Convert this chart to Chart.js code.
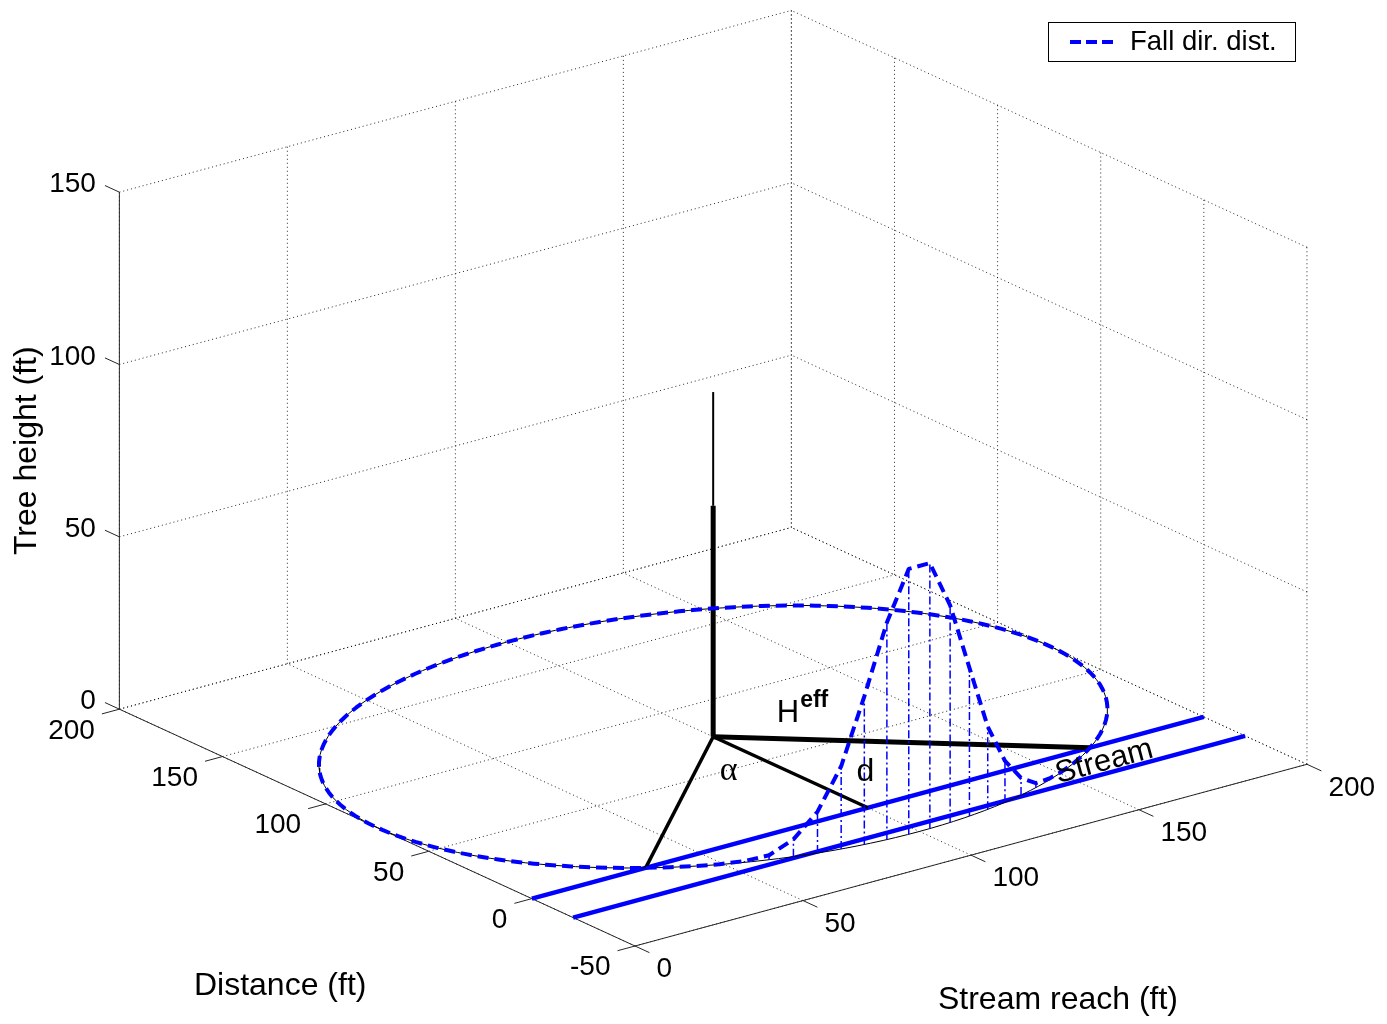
<!DOCTYPE html>
<html>
<head>
<meta charset="utf-8">
<title>Tree fall direction distribution</title>
<script src="https://cdn.jsdelivr.net/npm/chart.js@4.4.0/dist/chart.umd.min.js"></script>
<style>
  html, body { margin: 0; padding: 0; background: #fff; }
</style>
</head>
<body>
<canvas id="chart" width="1387" height="1024"></canvas>
<script>
// Axis ranges (ft) and tick labels
const xRange = [0, 200];      // Stream reach
const yRange = [-50, 200];    // Distance
const zRange = [0, 150];      // Tree height
const xTicks = [0, 50, 100, 150, 200];
const yTicks = [-50, 0, 50, 100, 150, 200];
const zTicks = [0, 50, 100, 150];

// Scene
const treeBase = [100, 75];        // stream reach, distance
const treeHeight = 100;
const trunkHeight = 67;            // thick lower part of the trunk
const fallRadius = 100;            // circle of possible fall positions
const streamBanks = [0, -20];      // distance of the two stream lines

// Fall direction distribution above the stream arc
// angle from the straight-to-stream direction (deg) and height (ft)
const fallAngles = [-41.4, -37.8, -34.2, -30.6, -27.0, -23.4, -19.8, -16.2, -12.6, -9.0, -5.4, -1.8,
                    1.8, 5.4, 9.0, 12.6, 16.2, 19.8, 23.4, 27.0, 30.6, 34.2, 37.8, 41.4];
const fallHeights = [0, 0, 0, 0.1, 0.4, 1.3, 5, 12, 24, 43, 63, 77,
                     77, 63, 43, 24, 12, 5, 1.3, 0.4, 0.1, 0, 0, 0];

// MATLAB style 3-D view
const AZ = -37.5, EL = 30;
const DEG = Math.PI / 180;

// where the view plane sits on the canvas
const W = 1387, H = 1024;
const ORIGIN_PX = [635, 946];
const PX_PER_U = 847, PX_PER_V = 597;

function project(x, y, z) {
    const xn = (x - xRange[0]) / (xRange[1] - xRange[0]);
    const yn = (y - yRange[0]) / (yRange[1] - yRange[0]);
    const zn = (z - zRange[0]) / (zRange[1] - zRange[0]);
    const a = -AZ * DEG, e = EL * DEG;
    return {
        x: Math.cos(a) * xn - Math.sin(a) * yn,
        y: (Math.sin(a) * xn + Math.cos(a) * yn) * Math.sin(e) + zn * Math.cos(e)
    };
}

// list of [x,y,z] or null (pen up) -> chart points
function toData(pts) {
    return pts.map(p => p ? project(p[0], p[1], p[2]) : { x: NaN, y: NaN });
}

function circlePoint(phi, z) {
    const t = (phi - 90) * DEG;
    return [treeBase[0] + fallRadius * Math.cos(t), treeBase[1] + fallRadius * Math.sin(t), z];
}

// grid on the floor and the two back walls
const gridPts = [];
xTicks.forEach(v => {
    gridPts.push([v, yRange[0], 0], [v, yRange[1], 0], null);
    gridPts.push([v, yRange[1], 0], [v, yRange[1], zRange[1]], null);
});
yTicks.forEach(v => {
    gridPts.push([xRange[0], v, 0], [xRange[1], v, 0], null);
    gridPts.push([xRange[1], v, 0], [xRange[1], v, zRange[1]], null);
});
zTicks.forEach(v => {
    gridPts.push([xRange[0], yRange[1], v], [xRange[1], yRange[1], v], null);
    gridPts.push([xRange[1], yRange[0], v], [xRange[1], yRange[1], v], null);
});

// axis lines and tick marks
const axisPts = [
    [xRange[0], yRange[0], 0], [xRange[1], yRange[0], 0], null,
    [xRange[0], yRange[0], 0], [xRange[0], yRange[1], 0], null,
    [xRange[0], yRange[1], 0], [xRange[0], yRange[1], zRange[1]], null
];
const tickLen = 0.028;
const tickX = tickLen * (yRange[1] - yRange[0]);
const tickY = tickLen * (xRange[1] - xRange[0]) * 0.93;
xTicks.forEach(v => axisPts.push([v, yRange[0], 0], [v, yRange[0] - tickX, 0], null));
yTicks.forEach(v => axisPts.push([xRange[0], v, 0], [xRange[0] - tickY, v, 0], null));
zTicks.forEach(v => axisPts.push([xRange[0], yRange[1], v], [xRange[0], yRange[1] + tickX, v], null));

// stream banks
const streamPts = [];
streamBanks.forEach(b => streamPts.push([xRange[0], b, 0], [xRange[1], b, 0], null));

// ground circle
const circlePts = [];
for (let p = 0; p <= 360; p += 2) circlePts.push(circlePoint(p, 0));

// where the circle meets the near stream line
const edgeAngle = Math.acos((treeBase[1] - streamBanks[0]) / fallRadius) / DEG;
const halfChord = Math.sqrt(fallRadius * fallRadius - Math.pow(treeBase[1] - streamBanks[0], 2));

// dashed curve: distribution over the stream arc, then the circle on land
const fallPts = fallAngles.map((p, i) => circlePoint(p, fallHeights[i]));
for (let p = edgeAngle; p < 360 - edgeAngle; p += 2) fallPts.push(circlePoint(p, 0));
fallPts.push(circlePoint(360 - edgeAngle, 0));

// drop lines under the distribution
const dropPts = [];
fallAngles.forEach((p, i) => dropPts.push(circlePoint(p, 0), circlePoint(p, fallHeights[i]), null));

const base = [treeBase[0], treeBase[1], 0];

function lineSet(label, pts, style) {
    return Object.assign({
        label: label,
        data: toData(pts),
        showLine: true,
        pointRadius: 0,
        pointHoverRadius: 0,
        fill: false,
        tension: 0,
        spanGaps: false,
        borderCapStyle: 'butt',
        borderJoinStyle: 'round'
    }, style);
}

const datasets = [
    lineSet('grid', gridPts, { borderColor: 'rgba(0,0,0,0.85)', borderWidth: 1, borderDash: [1, 3], order: 20 }),
    lineSet('axes', axisPts, { borderColor: '#262626', borderWidth: 1, order: 19 }),
    lineSet('stream', streamPts, { borderColor: '#0000ff', borderWidth: 4.5, order: 10 }),
    lineSet('circle', circlePts, { borderColor: '#000', borderWidth: 1, order: 9 }),
    lineSet('trunk', [base, [treeBase[0], treeBase[1], trunkHeight]], { borderColor: '#000', borderWidth: 5, order: 8 }),
    lineSet('top', [[treeBase[0], treeBase[1], trunkHeight], [treeBase[0], treeBase[1], treeHeight]], { borderColor: '#000', borderWidth: 2, order: 8 }),
    lineSet('Heff', [base, [treeBase[0] + halfChord, streamBanks[0], 0]], { borderColor: '#000', borderWidth: 5, order: 7 }),
    lineSet('d', [base, [treeBase[0], streamBanks[0], 0]], { borderColor: '#000', borderWidth: 3.5, order: 7 }),
    lineSet('alpha', [base, [treeBase[0] - halfChord, streamBanks[0], 0]], { borderColor: '#000', borderWidth: 3.5, order: 7 }),
    lineSet('Fall dir. dist.', fallPts, { borderColor: '#0000ff', borderWidth: 4, borderDash: [11, 6], order: 2 }),
    lineSet('drops', dropPts, { borderColor: '#0000ff', borderWidth: 1.5, borderDash: [8, 3, 2, 3], order: 1 })
];

const FONT = "'Liberation Sans', Arial, Helvetica, sans-serif";

// tick labels, axis titles, annotations and legend
const textPlugin = {
    id: 'sceneText',
    afterDatasetsDraw(chart) {
        const ctx = chart.ctx;
        const sx = chart.scales.x, sy = chart.scales.y;
        const px = (x, y, z) => {
            const p = project(x, y, z);
            return [sx.getPixelForValue(p.x), sy.getPixelForValue(p.y)];
        };
        ctx.save();
        ctx.fillStyle = '#000';
        ctx.textBaseline = 'middle';

        ctx.font = '28px ' + FONT;
        ctx.textAlign = 'left';
        xTicks.forEach(v => {
            const [a, b] = px(v, yRange[0] - tickX, 0);
            ctx.fillText(String(v), a + 7, b + 17);
        });
        ctx.textAlign = 'right';
        yTicks.forEach(v => {
            const [a, b] = px(xRange[0] - tickY, v, 0);
            ctx.fillText(String(v), a - 7, b + 17);
        });
        zTicks.forEach(v => {
            const [a, b] = px(xRange[0], yRange[1] + tickX, v);
            ctx.fillText(String(v), a - 9, b - 1);
        });

        // axis titles
        ctx.font = '32px ' + FONT;
        ctx.textAlign = 'center';
        let [a, b] = px((xRange[0] + xRange[1]) / 2, yRange[0], 0);
        ctx.fillText('Stream reach (ft)', a + 87, b + 145);
        [a, b] = px(xRange[0], (yRange[0] + yRange[1]) / 2, 0);
        ctx.fillText('Distance (ft)', a - 97, b + 159);
        [a, b] = px(xRange[0], yRange[1], (zRange[0] + zRange[1]) / 2);
        ctx.save();
        ctx.translate(a - 92, b);
        ctx.rotate(-Math.PI / 2);
        ctx.fillText('Tree height (ft)', 0, 0);
        ctx.restore();

        // annotations
        ctx.font = '31px ' + FONT;
        ctx.textAlign = 'left';
        ctx.textBaseline = 'alphabetic';
        [a, b] = px(118, 73, 0);
        ctx.fillText('H', a - 1, b);
        const hw = ctx.measureText('H').width;
        ctx.font = 'bold 23px ' + FONT;
        ctx.fillText('eff', a + hw, b - 15);

        ctx.textAlign = 'center';
        ctx.textBaseline = 'middle';
        ctx.font = '32px ' + FONT;
        [a, b] = px(114, 24, 0);
        ctx.fillText('d', a, b);
        ctx.font = "34px 'Liberation Serif', 'Times New Roman', serif";
        [a, b] = px(88, 48, 0);
        ctx.fillText('\u03b1', a, b - 2);

        // stream label along the stream
        const s0 = px(0, 0, 0), s1 = px(200, 0, 0);
        const ang = Math.atan2(s1[1] - s0[1], s1[0] - s0[0]);
        [a, b] = px(163, -12, 0);
        ctx.save();
        ctx.translate(a, b);
        ctx.rotate(ang);
        ctx.font = '31px ' + FONT;
        ctx.fillText('Stream', 0, 0);
        ctx.restore();

        // legend box
        const lx = 1048, ly = 22, lw = 247, lh = 39;
        ctx.fillStyle = '#fff';
        ctx.fillRect(lx, ly, lw, lh);
        ctx.strokeStyle = '#000';
        ctx.lineWidth = 1;
        ctx.strokeRect(lx + 0.5, ly + 0.5, lw, lh);
        ctx.strokeStyle = '#0000ff';
        ctx.lineWidth = 4;
        ctx.setLineDash([11, 5]);
        ctx.beginPath();
        ctx.moveTo(lx + 22, ly + 20);
        ctx.lineTo(lx + 66, ly + 20);
        ctx.stroke();
        ctx.setLineDash([]);
        ctx.fillStyle = '#000';
        ctx.font = '27.5px ' + FONT;
        ctx.textAlign = 'left';
        ctx.textBaseline = 'middle';
        ctx.fillText('Fall dir. dist.', lx + 82, ly + 20);
        ctx.restore();
    }
};

new Chart(document.getElementById('chart'), {
    type: 'scatter',
    data: { datasets: datasets },
    options: {
        responsive: false,
        animation: false,
        devicePixelRatio: 1,
        layout: { padding: 0 },
        events: [],
        plugins: { legend: { display: false }, tooltip: { enabled: false } },
        scales: {
            x: {
                type: 'linear', display: false, bounds: 'data',
                min: -ORIGIN_PX[0] / PX_PER_U,
                max: (W - ORIGIN_PX[0]) / PX_PER_U
            },
            y: {
                type: 'linear', display: false, bounds: 'data',
                min: -(H - ORIGIN_PX[1]) / PX_PER_V,
                max: ORIGIN_PX[1] / PX_PER_V
            }
        }
    },
    plugins: [textPlugin]
});
</script>
</body>
</html>
